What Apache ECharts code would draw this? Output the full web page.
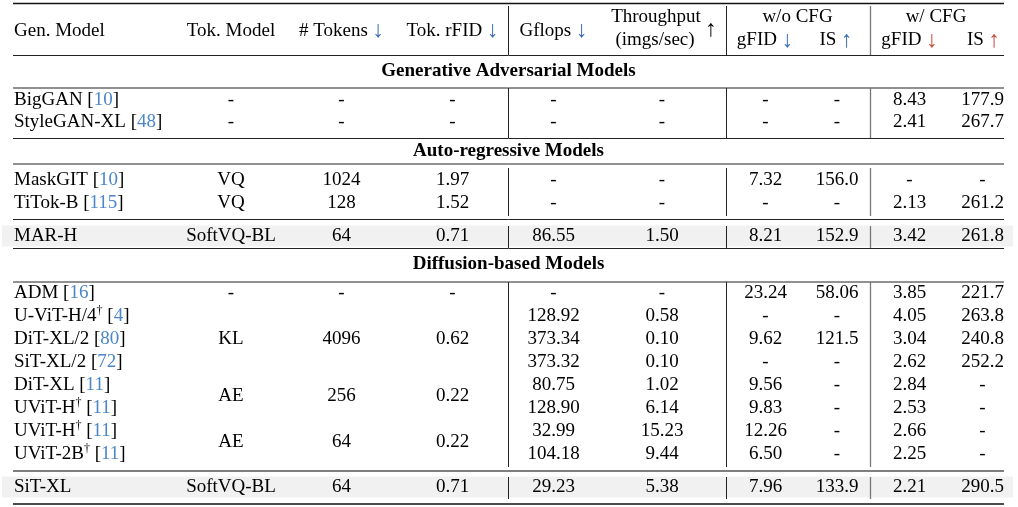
<!DOCTYPE html>
<html><head><meta charset="utf-8">
<script src="https://cdn.jsdelivr.net/npm/echarts@6/dist/echarts.min.js"></script>
<style>html,body{margin:0;padding:0;background:#fff}#c{width:1018px;height:507px}</style>
</head><body><div id="c"></div>
<script>
// ---------------- DATA ----------------
const sectionTitles = ['Generative Adversarial Models', 'Auto-regressive Models', 'Diffusion-based Models'];
const models  = ['BigGAN','StyleGAN-XL','MaskGIT','TiTok-B','MAR-H','ADM','U-ViT-H/4','DiT-XL/2','SiT-XL/2','DiT-XL','UViT-H','UViT-H','UViT-2B','SiT-XL'];
const cites   = ['10','48','10','115','','16','4','80','72','11','11','11','11',''];
const dagger  = [false,false,false,false,false,false,true,false,false,false,true,true,true,false];
const tokModel = ['-','-','VQ','VQ','SoftVQ-BL','-','','','','','','','','SoftVQ-BL'];
const numTokens = ['-','-','1024','128','64','-','','','','','','','','64'];
const tokRfid  = ['-','-','1.97','1.52','0.71','-','','','','','','','','0.71'];
const mergeStart = [6, 9, 11];
const mergeEnd   = [8, 10, 12];
const mergeTok    = ['KL','AE','AE'];
const mergeTokens = ['4096','256','64'];
const mergeRfid   = ['0.62','0.22','0.22'];
const gflops     = ['-','-','-','-','86.55','-','128.92','373.34','373.32','80.75','128.90','32.99','104.18','29.23'];
const throughput = ['-','-','-','-','1.50','-','0.58','0.10','0.10','1.02','6.14','15.23','9.44','5.38'];
const gfidNoCfg  = ['-','-','7.32','-','8.21','23.24','-','9.62','-','9.56','9.83','12.26','6.50','7.96'];
const isNoCfg    = ['-','-','156.0','-','152.9','58.06','-','121.5','-','-','-','-','-','133.9'];
const gfidCfg    = ['8.43','2.41','-','2.13','3.42','3.85','4.05','3.04','2.62','2.84','2.53','2.66','2.25','2.21'];
const isCfg      = ['177.9','267.7','-','261.2','261.8','221.7','263.8','240.8','252.2','-','-','-','-','290.5'];
const highlightRows = [4, 13];

// ---------------- LAYOUT / STYLE ----------------
const FONT = 'Liberation Serif';
const FS = 19;
const AFS = 23;
const COLX = {model:14, tok:231, tokens:341.5, rfid:452.5, gflops:553.5, thr:662, gfid1:765.5, is1:837, gfid2:909.5, is2:982.5};
const ROWY = [100.5,122,180,203,236.5,293,316,339,362,385,408,431,454,487.5];
const SECTY = [71.5, 151, 264.5];
const RICH = {
  c: {fill:'#4a86c8'},
  d: {fontFamily:FONT, fontSize:12, padding:[0,0,10,0]},
  b: {fill:'#3a6cb4', fontFamily:FONT, fontSize:AFS},
  r: {fill:'#c8483c', fontFamily:FONT, fontSize:AFS},
  k: {fill:'#000', fontFamily:FONT, fontSize:AFS}
};

const cells = [];
function addCell(x, y, text, align, bold) { cells.push({x, y, text, align: align || 'center', bold: !!bold}); }

// header
addCell(14, 31, 'Gen. Model', 'left');
addCell(COLX.tok, 31, 'Tok. Model');
addCell(COLX.tokens, 31, '# Tokens {b|↓}');
addCell(COLX.rfid, 31, 'Tok. rFID {b|↓}');
addCell(COLX.gflops, 31, 'Gflops {b|↓}');
addCell(656, 17.5, 'Throughput');
addCell(655, 40.5, '(imgs/sec)');
addCell(711, 30, '{k|↑}');
addCell(797.5, 17.5, 'w/o CFG');
addCell(COLX.gfid1 - 0.5, 40.5, 'gFID {b|↓}');
addCell(COLX.is1 - 1, 40.5, 'IS {b|↑}');
addCell(936, 17.5, 'w/ CFG');
addCell(COLX.gfid2, 40.5, 'gFID {r|↓}');
addCell(COLX.is2 + 1, 40.5, 'IS {r|↑}');

sectionTitles.forEach((t, i) => addCell(508.5, SECTY[i], t, 'center', true));

models.forEach((m, i) => {
  const y = ROWY[i];
  let txt = m + (dagger[i] ? '{d|†}' : '') + (cites[i] ? ' [{c|' + cites[i] + '}]' : '');
  addCell(COLX.model, y, txt, 'left');
  if (tokModel[i]) addCell(COLX.tok, y, tokModel[i]);
  if (numTokens[i]) addCell(COLX.tokens, y, numTokens[i]);
  if (tokRfid[i]) addCell(COLX.rfid, y, tokRfid[i]);
  addCell(COLX.gflops, y, gflops[i]);
  addCell(COLX.thr, y, throughput[i]);
  addCell(COLX.gfid1, y, gfidNoCfg[i]);
  addCell(COLX.is1, y, isNoCfg[i]);
  addCell(COLX.gfid2, y, gfidCfg[i]);
  addCell(COLX.is2, y, isCfg[i]);
});
mergeStart.forEach((s, k) => {
  const y = (ROWY[s] + ROWY[mergeEnd[k]]) / 2;
  addCell(COLX.tok, y, mergeTok[k]);
  addCell(COLX.tokens, y, mergeTokens[k]);
  addCell(COLX.rfid, y, mergeRfid[k]);
});

// rules
const L = 13, R = 1004;
const segs = [
  [L, 3.5, R, 3.5, '#111', 1.6],
  [L, 55.5, R, 55.5, '#222', 1],
  [L, 88, R, 88, '#222', 1],
  [L, 138.5, R, 138.5, '#222', 1],
  [L, 164, R, 164, '#222', 1],
  [L, 219.5, R, 219.5, '#222', 1],
  [L, 248.5, R, 248.5, '#222', 1],
  [L, 282, R, 282, '#222', 1],
  [L, 471, R, 471, '#555', 1.4],
  [L, 504, R, 504, '#111', 1.6]
];
const vRanges = [[6,55],[88,138],[168,216],[226,248],[282,467],[477,499]];
[[508.5,'#222',1],[726.5,'#222',1],[870.5,'#777',1.3]].forEach(v => {
  vRanges.forEach(r => segs.push([v[0], r[0], v[0], r[1], v[1], v[2]]));
});
const shadeRects = highlightRows.map(i => [2, ROWY[i] - 11, 1013, ROWY[i] + 10]);

const chart = echarts.init(document.getElementById('c'), null, {renderer: 'canvas'});
chart.setOption({
  animation: false,
  backgroundColor: '#fff',
  grid: {left: 0, right: 0, top: 0, bottom: 0},
  xAxis: {type: 'value', min: 0, max: 1018, show: false},
  yAxis: {type: 'value', min: 0, max: 507, inverse: true, show: false},
  series: [
    {
      type: 'custom', z: 1, clip: false,
      data: shadeRects,
      encode: {x: [0, 2], y: [1, 3]},
      renderItem(params, api) {
        const p1 = api.coord([api.value(0), api.value(1)]);
        const p2 = api.coord([api.value(2), api.value(3)]);
        return {type: 'rect', shape: {x: p1[0], y: p1[1], width: p2[0] - p1[0], height: p2[1] - p1[1]}, style: {fill: '#f1f1f1'}};
      }
    },
    {
      type: 'custom', z: 2, clip: false,
      data: segs.map(s => s.slice(0, 4)),
      encode: {x: [0, 2], y: [1, 3]},
      renderItem(params, api) {
        const s = segs[params.dataIndex];
        const p1 = api.coord([api.value(0), api.value(1)]);
        const p2 = api.coord([api.value(2), api.value(3)]);
        return {type: 'line', shape: {x1: p1[0], y1: p1[1], x2: p2[0], y2: p2[1]}, style: {stroke: s[4], lineWidth: s[5]}};
      }
    },
    {
      type: 'custom', z: 3, clip: false,
      data: cells.map(c => [c.x, c.y]),
      encode: {x: 0, y: 1},
      renderItem(params, api) {
        const c = cells[params.dataIndex];
        const p = api.coord([api.value(0), api.value(1)]);
        return {type: 'text', x: p[0], y: p[1], style: {
          text: c.text, fill: '#000', fontFamily: FONT, fontSize: FS,
          fontWeight: c.bold ? 'bold' : 'normal', align: c.align, verticalAlign: 'middle', rich: RICH
        }};
      }
    }
  ]
});
</script>
</body></html>
